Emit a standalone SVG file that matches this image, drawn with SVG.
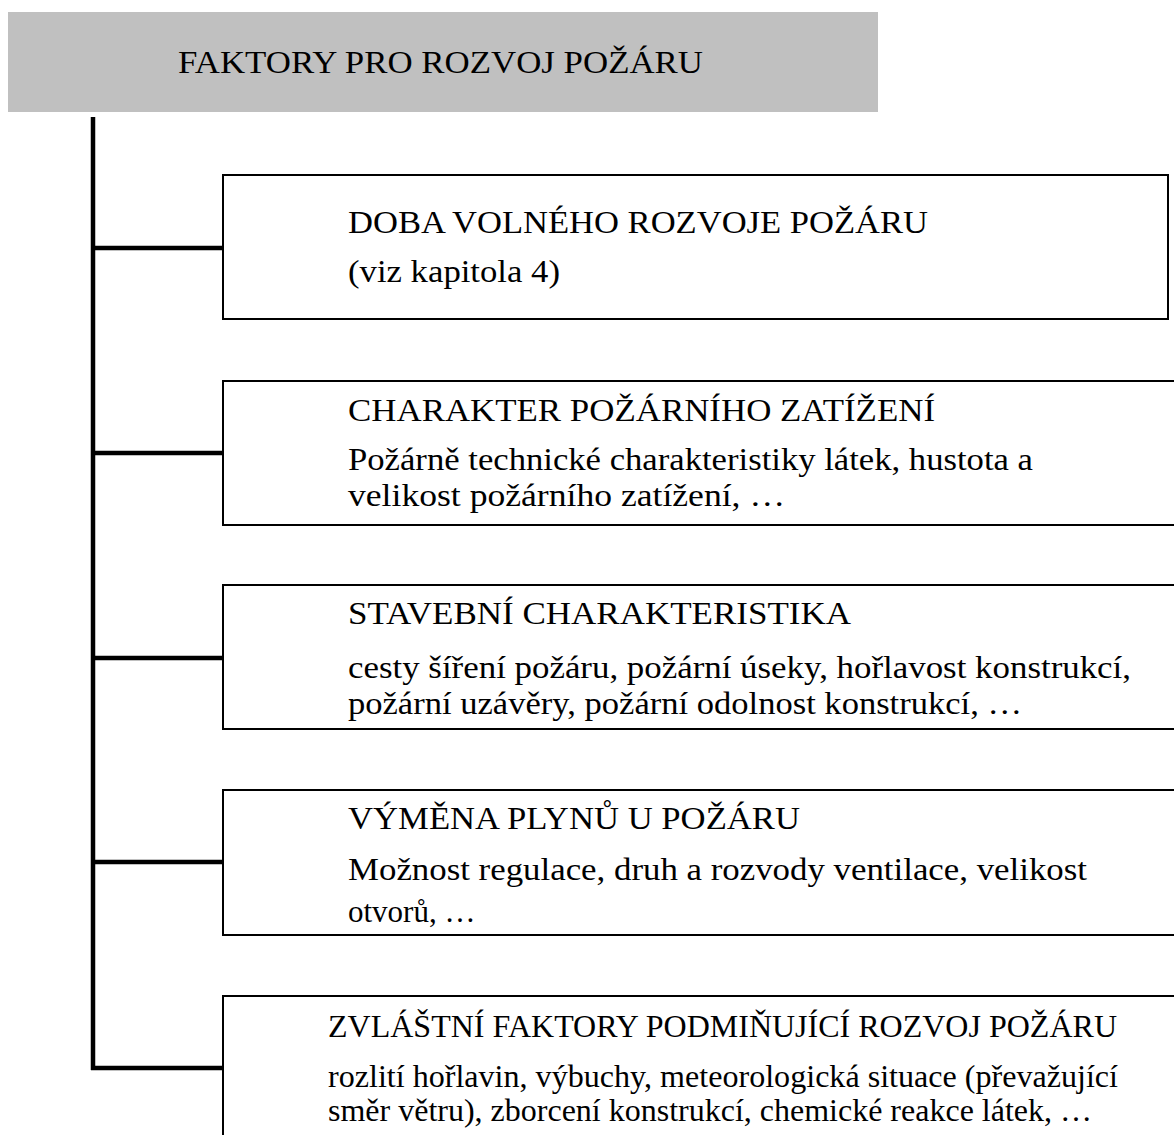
<svg xmlns="http://www.w3.org/2000/svg" width="1174" height="1135" viewBox="0 0 1174 1135">
<style>
.box{fill:#fff;stroke:#000;stroke-width:2}
.t{font-family:'Liberation Serif','Times New Roman',serif;font-size:32px;fill:#000}
.b{font-family:'Liberation Serif','Times New Roman',serif;font-size:31px;fill:#000}
.c{stroke:#000;stroke-width:4.5;fill:none}
</style>
<rect width="1174" height="1135" fill="#fff"/>
<g id="header">
<rect x="8" y="12" width="870" height="100" fill="#c0c0c0"/>
<text class="t" x="178" y="73" textLength="525" lengthAdjust="spacingAndGlyphs">FAKTORY PRO ROZVOJ POŽÁRU</text>
</g>
<g id="connectors">
<path class="c" d="M93 117 V1070 M93 248 H223 M93 453 H223 M93 658 H223 M93 862 H223 M91 1068 H223"/>
</g>
<g id="node1">
<rect class="box" x="223" y="175" width="945" height="144"/>
<text class="t" x="348" y="233" textLength="580" lengthAdjust="spacingAndGlyphs">DOBA VOLNÉHO ROZVOJE POŽÁRU</text>
<text class="b" x="348" y="282" textLength="212" lengthAdjust="spacingAndGlyphs">(viz kapitola 4)</text>
</g>
<g id="node2">
<rect class="box" x="223" y="381" width="960" height="144"/>
<text class="t" x="348" y="421" textLength="587" lengthAdjust="spacingAndGlyphs">CHARAKTER POŽÁRNÍHO ZATÍŽENÍ</text>
<text class="b" x="348" y="470" textLength="685" lengthAdjust="spacingAndGlyphs">Požárně technické charakteristiky látek, hustota a</text>
<text class="b" x="348" y="506" textLength="437" lengthAdjust="spacingAndGlyphs">velikost požárního zatížení, …</text>
</g>
<g id="node3">
<rect class="box" x="223" y="585" width="960" height="144"/>
<text class="t" x="348" y="624" textLength="503" lengthAdjust="spacingAndGlyphs">STAVEBNÍ CHARAKTERISTIKA</text>
<text class="b" x="348" y="678" textLength="783" lengthAdjust="spacingAndGlyphs">cesty šíření požáru, požární úseky, hořlavost konstrukcí,</text>
<text class="b" x="348" y="714" textLength="674" lengthAdjust="spacingAndGlyphs">požární uzávěry, požární odolnost konstrukcí, …</text>
</g>
<g id="node4">
<rect class="box" x="223" y="790" width="960" height="145"/>
<text class="t" x="348" y="829" textLength="452" lengthAdjust="spacingAndGlyphs">VÝMĚNA PLYNŮ U POŽÁRU</text>
<text class="b" x="348" y="880" textLength="739" lengthAdjust="spacingAndGlyphs">Možnost regulace, druh a rozvody ventilace, velikost</text>
<text class="b" x="348" y="922">otvorů, …</text>
</g>
<g id="node5">
<rect class="box" x="223" y="996" width="960" height="160"/>
<text class="t" x="328" y="1037" textLength="789" lengthAdjust="spacingAndGlyphs">ZVLÁŠTNÍ FAKTORY PODMIŇUJÍCÍ ROZVOJ POŽÁRU</text>
<text class="b" x="328" y="1087" textLength="790" lengthAdjust="spacingAndGlyphs">rozlití hořlavin, výbuchy, meteorologická situace (převažující</text>
<text class="b" x="328" y="1121" textLength="764" lengthAdjust="spacingAndGlyphs">směr větru), zborcení konstrukcí, chemické reakce látek, …</text>
</g>
</svg>
